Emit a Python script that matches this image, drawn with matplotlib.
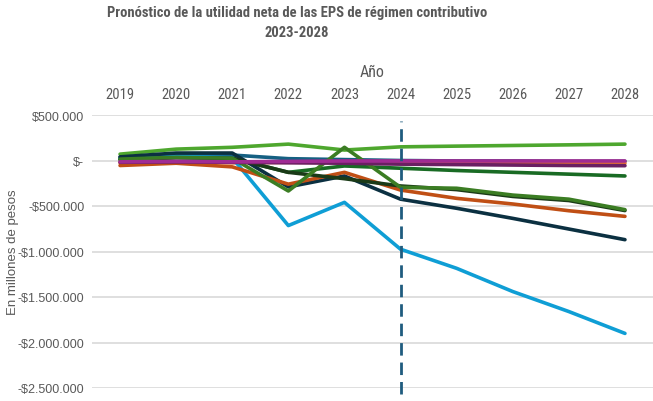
import numpy as np
import matplotlib
matplotlib.use("Agg")
import matplotlib.pyplot as plt
from matplotlib.ticker import FuncFormatter

years = ["2019", "2020", "2021", "2022", "2023", "2024", "2025", "2026", "2027", "2028"]

# utilidad neta en millones de pesos
teal = [35000, 70000, 60000, 20000, 10000, 0, -5000, -5000, -10000, -10000]
orange = [-25000, -15000, -25000, -20000, -20000, -25000, -25000, -28000, -30000, -30000]
green = [15000, 35000, 25000, -130000, -60000, -85000, -110000, -130000, -150000, -170000]
light_blue = [20000, 45000, 30000, -715000, -460000, -975000, -1185000, -1440000, -1660000, -1900000]
magenta = [-15000, -10000, -15000, -10000, -5000, -5000, -5000, -5000, -5000, -5000]
light_green = [70000, 125000, 145000, 180000, 115000, 150000, 158000, 165000, 172000, 180000]
navy = [40000, 82000, 82000, -290000, -170000, -425000, -525000, -636000, -753000, -870000]
burnt = [-55000, -30000, -70000, -260000, -130000, -325000, -416000, -478000, -552000, -614000]
darkest = [10000, 30000, 25000, -130000, -200000, -280000, -320000, -395000, -440000, -550000]
olive = [15000, 35000, 25000, -335000, 145000, -295000, -305000, -380000, -425000, -540000]
purple = [-20000, -15000, -20000, -25000, -30000, -40000, -45000, -50000, -55000, -57000]

series = [
    (teal, "#156082"),
    (orange, "#E97132"),
    (green, "#196B24"),
    (light_blue, "#0F9ED5"),
    (light_green, "#4EA72E"),
    (navy, "#0B3041"),
    (burnt, "#C04F15"),
    (darkest, "#1A3A17"),
    (olive, "#3B7D23"),
    (purple, "#6A1F62"),
    (magenta, "#A02B93"),
]

gray = "#595959"
narrow = ['Roboto Condensed', 'Liberation Sans Narrow', 'Liberation Sans', 'DejaVu Sans']
plt.rcParams['font.family'] = ['Liberation Sans', 'DejaVu Sans']

fig = plt.figure(figsize=(6.53, 4.02), dpi=100)
ax = fig.add_axes([92 / 653, 13 / 402, 561 / 653, 273 / 402])

x = np.arange(len(years))
for vals, col in series:
    ax.plot(x, vals, color=col, lw=2.6, solid_capstyle="round", solid_joinstyle="round")

ax.vlines(5, -2565000, 430000, colors="#1F5C7F", linestyles=(0, (4.5, 2.5)), lw=2.0, clip_on=False)

ax.set_xlim(-0.5, 9.5)
ax.set_ylim(-2500000, 500000)
ax.set_yticks(np.arange(-2500000, 500001, 500000))


def peso(v, pos):
    if v == 0:
        return "$-"
    s = "${:,.0f}".format(abs(v)).replace(",", ".")
    return "-" + s if v < 0 else s


ax.yaxis.set_major_formatter(FuncFormatter(peso))
ax.set_xticks(x)
ax.set_xticklabels(years, family=narrow, fontsize=10.5)
ax.xaxis.tick_top()
ax.xaxis.set_label_position("top")
ax.set_xlabel("Año", color=gray, fontsize=11.5, labelpad=8, family=narrow)
ax.set_ylabel("En millones de pesos", color=gray, fontsize=9.5)
ax.yaxis.set_label_coords(-0.13, 0.5)

ax.tick_params(axis="x", length=0, colors=gray, pad=10)
ax.tick_params(axis="y", length=0, colors=gray, labelsize=9, pad=5.5)
ax.grid(axis="y", color="#D9D9D9", lw=1.2)
ax.set_axisbelow(True)
for s in ax.spines.values():
    s.set_visible(False)

fig.text(297 / 653, 1 - 13 / 402, "Pronóstico de la utilidad neta de las EPS de régimen contributivo",
         ha="center", va="center", fontsize=10.5, fontweight="bold", color=gray, family=narrow)
fig.text(297 / 653, 1 - 33 / 402, "2023-2028",
         ha="center", va="center", fontsize=10.5, fontweight="bold", color=gray, family=narrow)

fig.savefig("out.png", dpi=100)
